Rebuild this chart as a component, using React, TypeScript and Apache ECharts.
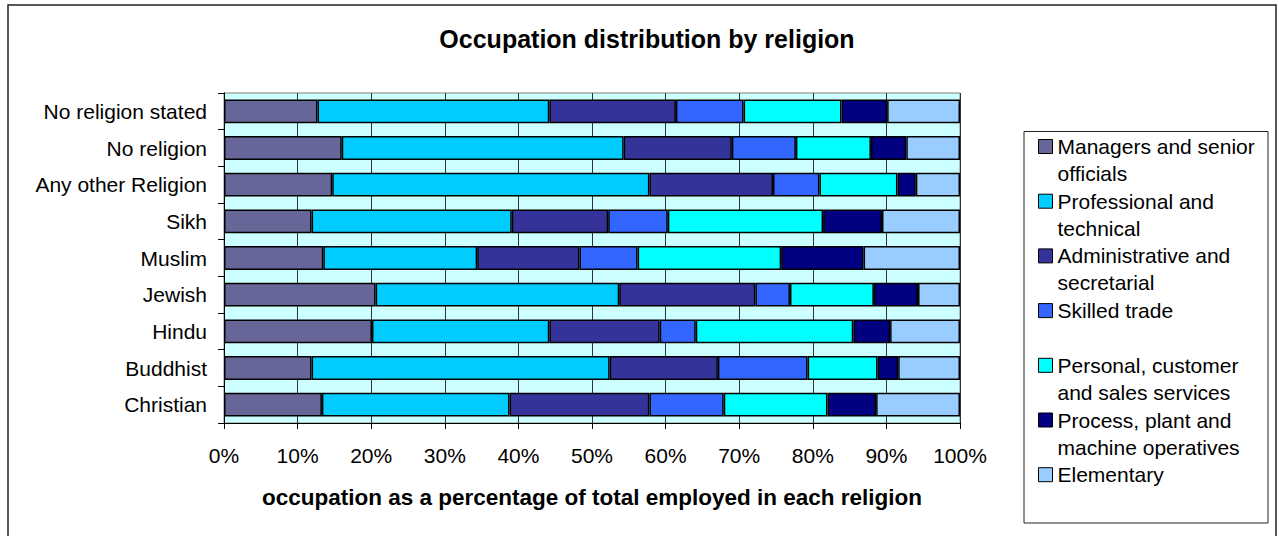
import React, { useEffect, useRef } from "react";
import * as echarts from "echarts";

const categories = [
  "Christian",
  "Buddhist",
  "Hindu",
  "Jewish",
  "Muslim",
  "Sikh",
  "Any other Religion",
  "No religion",
  "No religion stated",
];

const seriesNames = [
  "Managers and senior officials",
  "Professional and technical",
  "Administrative and secretarial",
  "Skilled trade",
  "Personal, customer and sales services",
  "Process, plant and machine operatives",
  "Elementary",
];

const legendLabels = [
  "Managers and senior\nofficials",
  "Professional and\ntechnical",
  "Administrative and\nsecretarial",
  "Skilled trade\n\u00a0",
  "Personal, customer\nand sales services",
  "Process, plant and\nmachine operatives",
  "Elementary\n\u00a0",
];

const managers = [13.3, 11.9, 20.1, 20.6, 13.5, 11.9, 14.7, 16.0, 12.7];
const professional = [25.5, 40.5, 24.1, 33.1, 20.9, 27.2, 43.1, 38.3, 31.5];
const administrative = [19.0, 14.7, 15.0, 18.5, 13.9, 13.1, 16.8, 14.7, 17.2];
const skilled = [10.1, 12.2, 4.9, 4.7, 7.9, 8.1, 6.3, 8.7, 9.2];
const personal = [14.1, 9.5, 21.4, 11.4, 19.5, 21.1, 10.6, 10.2, 13.3];
const process = [6.6, 2.8, 5.0, 6.0, 11.2, 8.0, 2.5, 4.8, 6.2];
const elementary = [11.4, 8.4, 9.5, 5.7, 13.1, 10.6, 6.0, 7.3, 9.9];

const xTicks = [0, 10, 20, 30, 40, 50, 60, 70, 80, 90, 100];

const colors = ["#666699", "#00CCFF", "#333399", "#3366FF", "#00FFFF", "#000080", "#99CCFF"];

const FONT = "'Liberation Sans', Arial, Helvetica, sans-serif";

export default function App() {
  const ref = useRef<HTMLDivElement>(null);

  useEffect(() => {
    if (!ref.current) return;
    const chart = echarts.init(ref.current, undefined, { renderer: "svg" });
    const allValues = [managers, professional, administrative, skilled, personal, process, elementary];

    const series = seriesNames.map((name, i) => ({
      name,
      type: "bar",
      stack: "total",
      barCategoryGap: "35%",
      data: allValues[i],
      itemStyle: { color: colors[i], borderColor: "#000", borderWidth: 1.5 },
      emphasis: { disabled: true },
    }));

    const labelMap: Record<string, string> = {};
    seriesNames.forEach((n, i) => (labelMap[n] = legendLabels[i]));

    chart.setOption({
      animation: false,
      backgroundColor: "#fff",
      textStyle: { fontFamily: FONT, color: "#000" },
      title: {
        text: "Occupation distribution by religion",
        left: 642,
        textAlign: "center",
        top: 21,
        textStyle: { fontFamily: FONT, fontSize: 25, fontWeight: "bold", color: "#000" },
      },
      graphic: [
        {
          type: "rect",
          shape: { x: 8, y: 5, width: 1268, height: 545 },
          style: { fill: "none", stroke: "#222", lineWidth: 1.5 },
          silent: true,
        },
        {
          type: "rect",
          shape: { x: 1024, y: 131.5, width: 244, height: 391.5 },
          style: { fill: "none", stroke: "#222", lineWidth: 1 },
          silent: true,
        },
      ],
      legend: {
        orient: "vertical",
        left: 1038,
        top: 133,
        padding: 0,
        itemWidth: 14,
        itemHeight: 54,
        itemGap: 0.7,
        symbolKeepAspect: true,
        icon: "path://M0,0L14,0L14,14L0,14Z M14,41",
        itemStyle: { borderColor: "#000", borderWidth: 1 },
        formatter: (name: string) => labelMap[name] ?? name,
        textStyle: { fontFamily: FONT, fontSize: 21, lineHeight: 27, color: "#000" },
        selectedMode: false,
        data: seriesNames,
      },
      grid: {
        left: 224,
        right: 319,
        top: 93,
        bottom: 113,
        show: true,
        backgroundColor: "#CCFFFF",
        borderColor: "#808080",
        borderWidth: 1,
        containLabel: false,
      },
      xAxis: {
        type: "value",
        min: xTicks[0],
        max: xTicks[xTicks.length - 1],
        interval: xTicks[1] - xTicks[0],
        name: "occupation as a percentage of total employed in each religion",
        nameLocation: "middle",
        nameGap: 63,
        nameTextStyle: { fontFamily: FONT, fontSize: 22.5, fontWeight: "bold", color: "#000" },
        axisLine: { show: true, lineStyle: { color: "#000", width: 1 } },
        axisTick: { show: true, length: 6, lineStyle: { color: "#000" } },
        axisLabel: {
          formatter: "{value}%",
          fontFamily: FONT,
          fontSize: 21,
          color: "#000",
          margin: 22,
        },
        splitLine: { show: true, lineStyle: { color: "#333", width: 1 } },
      },
      yAxis: {
        type: "category",
        data: categories,
        axisLine: { show: true, lineStyle: { color: "#000", width: 1 } },
        axisTick: { show: true, length: 6, lineStyle: { color: "#000" } },
        axisLabel: { fontFamily: FONT, fontSize: 21, color: "#000", margin: 17 },
        splitLine: { show: false },
      },
      series,
    });

    return () => chart.dispose();
  }, []);

  return (
    <div
      ref={ref}
      style={{ position: "fixed", left: 0, top: 0, width: 1279, height: 536, background: "#fff" }}
    />
  );
}
